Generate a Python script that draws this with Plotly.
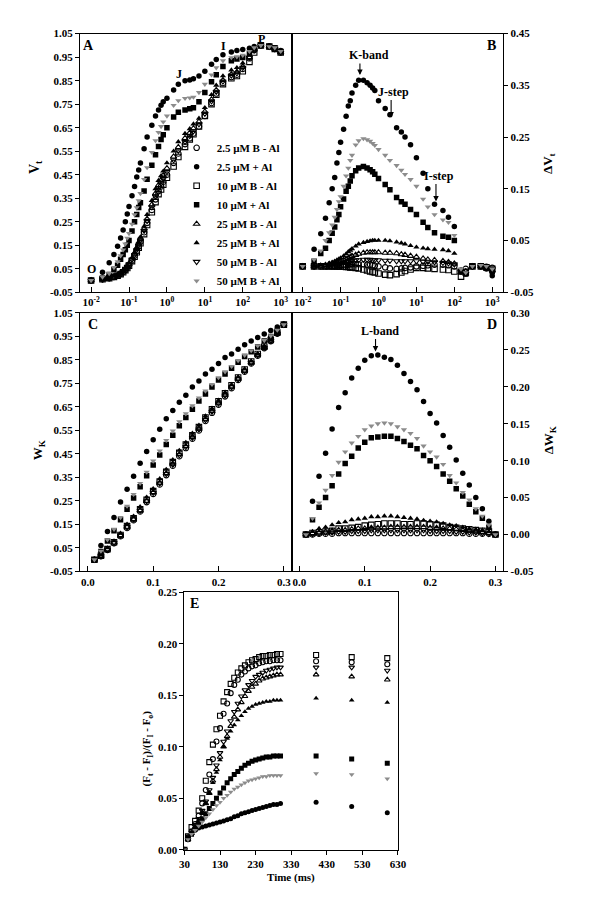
import plotly.graph_objects as go

# ---------------- DATA ----------------
NAMES = ["2.5 µM B - Al", "2.5 µM + Al", "10 µM B - Al", "10 µM + Al",
         "25 µM B - Al", "25 µM B + Al", "50 µM B - Al", "50 µM B + Al"]

# Panel A/B time axis (ms)
T_OJIP = [0.01, 0.02, 0.03, 0.04, 0.05, 0.06, 0.07, 0.08, 0.09, 0.1,
          0.12, 0.14, 0.16, 0.18, 0.2, 0.25, 0.3, 0.4, 0.5, 0.6, 0.7, 0.8,
          1, 1.5, 2, 3, 4, 5, 7, 10, 15, 20, 30, 50, 70, 100, 150, 200,
          300, 500, 700, 1000]

VT_B2_5_MINUS = [0, 0.005, 0.01, 0.015, 0.02, 0.028, 0.036, 0.045, 0.055, 0.065,
                 0.085, 0.105, 0.125, 0.145, 0.165, 0.205, 0.245, 0.30, 0.345, 0.38,
                 0.40, 0.42, 0.45, 0.50, 0.54, 0.58, 0.605, 0.625, 0.655, 0.70,
                 0.755, 0.795, 0.84, 0.865, 0.875, 0.90, 0.945, 0.98, 1.0, 0.995,
                 0.985, 0.97]
VT_B2_5_PLUS = [0, 0.035, 0.075, 0.11, 0.145, 0.18, 0.215, 0.25, 0.283, 0.315,
                0.36, 0.40, 0.44, 0.47, 0.50, 0.56, 0.61, 0.66, 0.70, 0.725,
                0.745, 0.76, 0.775, 0.81, 0.835, 0.85, 0.853, 0.858, 0.87, 0.89,
                0.92, 0.94, 0.96, 0.972, 0.978, 0.982, 0.988, 0.995, 1.0, 0.997,
                0.99, 0.978]
VT_B10_MINUS = [0, 0.005, 0.01, 0.015, 0.02, 0.027, 0.035, 0.044, 0.053, 0.063,
                0.082, 0.101, 0.12, 0.139, 0.158, 0.197, 0.236, 0.29, 0.333, 0.367,
                0.387, 0.407, 0.437, 0.485, 0.525, 0.568, 0.6, 0.622, 0.655, 0.70,
                0.75, 0.79, 0.835, 0.86, 0.87, 0.89, 0.93, 0.97, 1.0, 0.995,
                0.985, 0.97]
VT_B10_PLUS = [0, 0.01, 0.025, 0.045, 0.065, 0.09, 0.11, 0.13, 0.15, 0.17,
               0.21, 0.25, 0.28, 0.31, 0.33, 0.38, 0.43, 0.49, 0.535, 0.57,
               0.60, 0.62, 0.65, 0.695, 0.715, 0.725, 0.73, 0.735, 0.76, 0.80,
               0.845, 0.875, 0.91, 0.935, 0.942, 0.948, 0.965, 0.985, 1.0, 0.995,
               0.99, 0.975]
VT_B25_MINUS = [0, 0.005, 0.01, 0.016, 0.022, 0.03, 0.039, 0.048, 0.059, 0.07,
                0.092, 0.113, 0.135, 0.156, 0.177, 0.22, 0.262, 0.322, 0.37, 0.405,
                0.427, 0.447, 0.477, 0.527, 0.567, 0.605, 0.628, 0.647, 0.675, 0.718,
                0.77, 0.81, 0.852, 0.877, 0.887, 0.91, 0.95, 0.982, 1.0, 0.995,
                0.985, 0.97]
VT_B25_PLUS = [0, 0.005, 0.01, 0.017, 0.025, 0.033, 0.042, 0.052, 0.063, 0.075,
               0.097, 0.12, 0.142, 0.165, 0.185, 0.23, 0.28, 0.34, 0.39, 0.425,
               0.445, 0.465, 0.50, 0.55, 0.59, 0.625, 0.645, 0.665, 0.69, 0.735,
               0.79, 0.83, 0.87, 0.895, 0.905, 0.925, 0.96, 0.985, 1.0, 0.995,
               0.985, 0.97]
VT_B50_MINUS = [0, 0.005, 0.01, 0.015, 0.021, 0.029, 0.038, 0.047, 0.057, 0.068,
                0.089, 0.109, 0.13, 0.15, 0.171, 0.212, 0.254, 0.312, 0.357, 0.392,
                0.412, 0.432, 0.462, 0.512, 0.552, 0.59, 0.615, 0.635, 0.665, 0.71,
                0.763, 0.803, 0.847, 0.872, 0.882, 0.905, 0.948, 0.98, 1.0, 0.995,
                0.985, 0.97]
VT_B50_PLUS = [0, 0.015, 0.03, 0.055, 0.08, 0.105, 0.13, 0.155, 0.18, 0.20,
               0.24, 0.28, 0.31, 0.34, 0.37, 0.43, 0.48, 0.545, 0.595, 0.63,
               0.655, 0.675, 0.70, 0.745, 0.765, 0.775, 0.777, 0.78, 0.80, 0.835,
               0.875, 0.905, 0.935, 0.948, 0.952, 0.958, 0.975, 0.99, 1.0, 0.995,
               0.99, 0.975]

DVT_B2_5_MINUS = [0, 0.0, 0.0, 0.0, 0.001, 0.001, 0.001, 0.002, 0.002, 0.002,
                  0.003, 0.003, 0.003, 0.004, 0.004, 0.004, 0.004, 0.004, 0.003, 0.003,
                  0.002, 0.001, 0.0, -0.002, -0.004, -0.005, -0.004, -0.003, -0.002, 0.0,
                  0.001, 0.002, 0.003, 0.003, 0.002, 0.0, -0.008, -0.005, 0.0, 0.0,
                  -0.001, -0.003]
DVT_B2_5_PLUS = [0, 0.033, 0.063, 0.093, 0.123, 0.15, 0.172, 0.20, 0.22, 0.24,
                 0.265, 0.29, 0.31, 0.32, 0.335, 0.35, 0.36, 0.36, 0.355, 0.35,
                 0.345, 0.34, 0.32, 0.305, 0.293, 0.268, 0.26, 0.25, 0.235, 0.21,
                 0.18, 0.15, 0.12, 0.108, 0.095, 0.077, -0.01, -0.015, 0.0, 0.0,
                 -0.005, -0.018]
DVT_B10_MINUS = [0, 0.0, 0.0, 0.0, 0.0, 0.0, 0.0, 0.0, 0.0, 0.0,
                 0.0, -0.001, -0.001, -0.002, -0.002, -0.003, -0.004, -0.006, -0.008, -0.01,
                 -0.011, -0.012, -0.014, -0.016, -0.017, -0.015, -0.012, -0.009, -0.006, -0.003,
                 -0.003, -0.004, -0.005, -0.006, -0.007, -0.01, -0.02, -0.012, 0.0, 0.0,
                 -0.002, -0.005]
DVT_B10_PLUS = [0, 0.01, 0.025, 0.035, 0.05, 0.064, 0.076, 0.09, 0.10, 0.115,
                0.13, 0.145, 0.155, 0.165, 0.175, 0.185, 0.19, 0.193, 0.19, 0.187,
                0.183, 0.178, 0.17, 0.158, 0.148, 0.133, 0.125, 0.12, 0.11, 0.10,
                0.085, 0.075, 0.065, 0.058, 0.056, 0.05, -0.01, -0.015, 0.0, 0.0,
                -0.003, -0.01]
DVT_B25_MINUS = [0, 0.0, 0.001, 0.002, 0.004, 0.005, 0.006, 0.008, 0.009, 0.01,
                 0.012, 0.014, 0.016, 0.018, 0.02, 0.022, 0.024, 0.026, 0.027, 0.027,
                 0.027, 0.027, 0.027, 0.026, 0.026, 0.025, 0.023, 0.022, 0.02, 0.018,
                 0.015, 0.013, 0.012, 0.01, 0.008, 0.005, -0.012, -0.01, 0.0, 0.0,
                 -0.002, -0.008]
DVT_B25_PLUS = [0, 0.0, 0.002, 0.004, 0.006, 0.008, 0.01, 0.012, 0.014, 0.016,
                0.02, 0.024, 0.028, 0.031, 0.034, 0.039, 0.043, 0.046, 0.048, 0.049,
                0.05, 0.05, 0.05, 0.05, 0.049, 0.047, 0.045, 0.043, 0.04, 0.037,
                0.035, 0.034, 0.033, 0.032, 0.03, 0.025, -0.01, -0.015, 0.0, 0.0,
                -0.003, -0.01]
DVT_B50_MINUS = [0, 0.0, 0.001, 0.001, 0.002, 0.003, 0.004, 0.004, 0.005, 0.006,
                 0.007, 0.008, 0.009, 0.01, 0.011, 0.012, 0.012, 0.013, 0.013, 0.013,
                 0.012, 0.012, 0.012, 0.011, 0.011, 0.01, 0.01, 0.01, 0.01, 0.01,
                 0.009, 0.009, 0.008, 0.007, 0.006, 0.004, -0.01, -0.008, 0.0, 0.0,
                 -0.002, -0.005]
DVT_B50_PLUS = [0, 0.013, 0.03, 0.05, 0.065, 0.08, 0.095, 0.11, 0.125, 0.135,
                0.155, 0.175, 0.19, 0.205, 0.215, 0.235, 0.243, 0.247, 0.245, 0.242,
                0.238, 0.234, 0.226, 0.215, 0.205, 0.195, 0.186, 0.178, 0.168, 0.155,
                0.13, 0.115, 0.10, 0.09, 0.085, 0.06, -0.005, -0.012, 0.0, 0.002,
                0.0, -0.005]

# Panel C/D time axis (ms)
T_K = [0.01, 0.02, 0.03, 0.04, 0.05, 0.06, 0.07, 0.08, 0.09, 0.10,
       0.11, 0.12, 0.13, 0.14, 0.15, 0.16, 0.17, 0.18, 0.19, 0.20,
       0.21, 0.22, 0.23, 0.24, 0.25, 0.26, 0.27, 0.28, 0.29, 0.30]

WK_B2_5_MINUS = [0, 0.015, 0.042, 0.07, 0.10, 0.135, 0.168, 0.205, 0.245, 0.28,
                 0.32, 0.36, 0.40, 0.44, 0.475, 0.515, 0.55, 0.59, 0.625, 0.66,
                 0.695, 0.73, 0.765, 0.80, 0.835, 0.868, 0.90, 0.93, 0.962, 1.0]
WK_B2_5_PLUS = [0, 0.06, 0.12, 0.18, 0.245, 0.30, 0.355, 0.41, 0.46, 0.51,
                0.555, 0.60, 0.635, 0.67, 0.70, 0.735, 0.76, 0.79, 0.81, 0.835,
                0.86, 0.875, 0.895, 0.915, 0.93, 0.945, 0.96, 0.975, 0.99, 1.0]
WK_B10_MINUS = [0, 0.017, 0.045, 0.074, 0.105, 0.143, 0.176, 0.214, 0.255, 0.292,
                0.333, 0.374, 0.415, 0.455, 0.49, 0.529, 0.564, 0.605, 0.64, 0.674,
                0.708, 0.742, 0.775, 0.809, 0.843, 0.875, 0.906, 0.935, 0.966, 1.0]
WK_B10_PLUS = [0, 0.035, 0.08, 0.123, 0.17, 0.215, 0.263, 0.31, 0.357, 0.403,
               0.445, 0.49, 0.53, 0.57, 0.605, 0.64, 0.675, 0.705, 0.735, 0.765,
               0.79, 0.815, 0.84, 0.865, 0.885, 0.905, 0.93, 0.95, 0.975, 1.0]
WK_B25_MINUS = [0, 0.016, 0.044, 0.073, 0.104, 0.14, 0.173, 0.21, 0.25, 0.287,
                0.327, 0.367, 0.408, 0.448, 0.483, 0.522, 0.557, 0.597, 0.632, 0.667,
                0.701, 0.736, 0.77, 0.804, 0.839, 0.872, 0.904, 0.933, 0.964, 1.0]
WK_B25_PLUS = [0, 0.019, 0.05, 0.08, 0.113, 0.151, 0.185, 0.225, 0.266, 0.302,
               0.344, 0.384, 0.425, 0.465, 0.499, 0.538, 0.572, 0.611, 0.644, 0.678,
               0.712, 0.745, 0.778, 0.812, 0.845, 0.876, 0.907, 0.936, 0.966, 1.0]
WK_B50_MINUS = [0, 0.016, 0.043, 0.072, 0.103, 0.139, 0.172, 0.209, 0.249, 0.285,
                0.325, 0.365, 0.405, 0.445, 0.48, 0.52, 0.555, 0.595, 0.63, 0.665,
                0.699, 0.734, 0.768, 0.803, 0.838, 0.871, 0.903, 0.932, 0.963, 1.0]
WK_B50_PLUS = [0, 0.037, 0.085, 0.13, 0.18, 0.228, 0.278, 0.325, 0.373, 0.42,
               0.463, 0.508, 0.548, 0.587, 0.621, 0.655, 0.689, 0.718, 0.746, 0.775,
               0.8, 0.823, 0.847, 0.87, 0.89, 0.91, 0.933, 0.953, 0.977, 1.0]

DWK_B2_5_MINUS = [0, 0.0, 0.001, 0.001, 0.001, 0.002, 0.002, 0.002, 0.002, 0.002,
                  0.002, 0.002, 0.002, 0.002, 0.002, 0.002, 0.002, 0.002, 0.002, 0.002,
                  0.002, 0.002, 0.002, 0.002, 0.002, 0.001, 0.001, 0.001, 0.001, 0]
DWK_B2_5_PLUS = [0, 0.045, 0.079, 0.11, 0.143, 0.172, 0.192, 0.212, 0.225, 0.236,
                 0.242, 0.243, 0.24, 0.237, 0.229, 0.218, 0.207, 0.196, 0.18, 0.164,
                 0.151, 0.134, 0.118, 0.101, 0.083, 0.067, 0.05, 0.035, 0.018, 0]
DWK_B10_MINUS = [0, 0.002, 0.003, 0.004, 0.005, 0.008, 0.008, 0.009, 0.01, 0.012,
                 0.013, 0.014, 0.015, 0.015, 0.015, 0.014, 0.014, 0.015, 0.015, 0.014,
                 0.013, 0.012, 0.01, 0.009, 0.008, 0.007, 0.006, 0.005, 0.004, 0]
DWK_B10_PLUS = [0, 0.02, 0.037, 0.05, 0.066, 0.082, 0.096, 0.106, 0.117, 0.125,
                0.131, 0.132, 0.133, 0.133, 0.13, 0.126, 0.121, 0.116, 0.107, 0.10,
                0.092, 0.082, 0.072, 0.062, 0.052, 0.041, 0.031, 0.022, 0.01, 0]
DWK_B25_MINUS = [0, 0.002, 0.003, 0.004, 0.005, 0.006, 0.006, 0.007, 0.008, 0.008,
                 0.009, 0.009, 0.009, 0.01, 0.01, 0.01, 0.01, 0.01, 0.01, 0.009,
                 0.009, 0.008, 0.008, 0.007, 0.006, 0.005, 0.004, 0.003, 0.002, 0]
DWK_B25_PLUS = [0, 0.004, 0.008, 0.01, 0.013, 0.016, 0.017, 0.02, 0.021, 0.022,
                0.024, 0.024, 0.025, 0.025, 0.024, 0.023, 0.022, 0.021, 0.019, 0.018,
                0.017, 0.015, 0.013, 0.012, 0.01, 0.008, 0.007, 0.006, 0.004, 0]
DWK_B50_MINUS = [0, 0.001, 0.002, 0.003, 0.003, 0.004, 0.004, 0.005, 0.005, 0.005,
                 0.006, 0.006, 0.006, 0.006, 0.006, 0.006, 0.006, 0.006, 0.006, 0.005,
                 0.005, 0.005, 0.005, 0.004, 0.004, 0.003, 0.003, 0.002, 0.001, 0]
DWK_B50_PLUS = [0, 0.022, 0.043, 0.06, 0.08, 0.098, 0.112, 0.124, 0.133, 0.142,
                0.147, 0.150, 0.151, 0.150, 0.146, 0.142, 0.137, 0.13, 0.12, 0.112,
                0.105, 0.095, 0.08, 0.07, 0.057, 0.047, 0.035, 0.025, 0.013, 0]

# Panel E time axis (ms)
T_E = [30, 40, 50, 60, 70, 80, 90, 100, 110, 120, 130, 140, 150, 160, 170,
       180, 190, 200, 210, 220, 230, 240, 250, 260, 270, 280, 290, 300,
       400, 500, 600]

E_B2_5_MINUS = [0, 0.012, 0.018, 0.025, 0.033, 0.045, 0.058, 0.073, 0.088, 0.105,
                0.118, 0.132, 0.142, 0.152, 0.16, 0.165, 0.17, 0.173, 0.176, 0.178,
                0.179, 0.181, 0.182, 0.183, 0.183, 0.184, 0.184, 0.184, 0.183, 0.182, 0.18]
E_B2_5_PLUS = [0, 0.012, 0.016, 0.019, 0.021, 0.022, 0.023, 0.024, 0.025, 0.026,
               0.027, 0.028, 0.029, 0.03, 0.032, 0.033, 0.035, 0.036, 0.037, 0.038,
               0.039, 0.04, 0.041, 0.042, 0.043, 0.044, 0.044, 0.045, 0.046, 0.042, 0.036]
E_B10_MINUS = [0, 0.013, 0.022, 0.028, 0.038, 0.05, 0.067, 0.085, 0.102, 0.117,
               0.13, 0.144, 0.153, 0.161, 0.167, 0.172, 0.176, 0.179, 0.182, 0.184,
               0.185, 0.187, 0.188, 0.188, 0.189, 0.189, 0.19, 0.19, 0.189, 0.187, 0.186]
E_B10_PLUS = [0, 0.01, 0.015, 0.02, 0.025, 0.03, 0.035, 0.04, 0.045, 0.05,
              0.055, 0.06, 0.065, 0.069, 0.073, 0.076, 0.079, 0.082, 0.084, 0.086,
              0.087, 0.088, 0.089, 0.09, 0.09, 0.091, 0.091, 0.091, 0.091, 0.088, 0.084]
E_B25_MINUS = [0, 0.01, 0.016, 0.022, 0.028, 0.036, 0.045, 0.055, 0.067, 0.078,
               0.09, 0.1, 0.11, 0.12, 0.129, 0.136, 0.143, 0.149, 0.154, 0.158,
               0.161, 0.164, 0.166, 0.167, 0.168, 0.169, 0.17, 0.17, 0.17, 0.168, 0.165]
E_B25_PLUS = [0, 0.01, 0.016, 0.022, 0.028, 0.035, 0.045, 0.055, 0.065, 0.075,
              0.087, 0.1, 0.108, 0.115, 0.121, 0.126, 0.13, 0.134, 0.137, 0.139,
              0.141, 0.142, 0.143, 0.144, 0.144, 0.145, 0.145, 0.145, 0.147, 0.145, 0.143]
E_B50_MINUS = [0, 0.01, 0.017, 0.023, 0.03, 0.038, 0.047, 0.058, 0.07, 0.082,
               0.094, 0.105, 0.115, 0.125, 0.134, 0.142, 0.149, 0.155, 0.16, 0.164,
               0.168, 0.17, 0.172, 0.174, 0.175, 0.176, 0.177, 0.177, 0.177, 0.177, 0.174]
E_B50_PLUS = [0, 0.01, 0.015, 0.019, 0.023, 0.027, 0.031, 0.035, 0.039, 0.043,
              0.046, 0.05, 0.053, 0.056, 0.059, 0.061, 0.063, 0.065, 0.067, 0.068,
              0.069, 0.07, 0.071, 0.071, 0.072, 0.072, 0.072, 0.072, 0.074, 0.073, 0.069]

LOG_TICKS = [0.01, 0.1, 1, 10, 100, 1000]
LOG_TICKTEXT = ["10<sup>-2</sup>", "10<sup>-1</sup>", "10<sup>0</sup>",
                "10<sup>1</sup>", "10<sup>2</sup>", "10<sup>3</sup>"]
VT_TICKS = [-0.05, 0.05, 0.15, 0.25, 0.35, 0.45, 0.55, 0.65, 0.75, 0.85, 0.95, 1.05]
DVT_TICKS = [-0.05, 0.05, 0.15, 0.25, 0.35, 0.45]
K_TICKS = [0.0, 0.1, 0.2, 0.3]
DWK_TICKS = [-0.05, 0.0, 0.05, 0.10, 0.15, 0.20, 0.25, 0.30]
E_XTICKS = [30, 130, 230, 330, 430, 530, 630]
E_YTICKS = [0.0, 0.05, 0.10, 0.15, 0.20, 0.25]

# ---------------- STYLE ----------------
FONT = "Liberation Serif"
GREY = "#8c8c8c"
SYMBOLS = ["circle-open", "circle", "square-open", "square",
           "triangle-up-open", "triangle-up", "triangle-down-open", "triangle-down"]
COLORS = ["black", "black", "black", "black", "black", "black", "black", GREY]

SERIES_A = [VT_B2_5_MINUS, VT_B2_5_PLUS, VT_B10_MINUS, VT_B10_PLUS,
            VT_B25_MINUS, VT_B25_PLUS, VT_B50_MINUS, VT_B50_PLUS]
SERIES_B = [DVT_B2_5_MINUS, DVT_B2_5_PLUS, DVT_B10_MINUS, DVT_B10_PLUS,
            DVT_B25_MINUS, DVT_B25_PLUS, DVT_B50_MINUS, DVT_B50_PLUS]
SERIES_C = [WK_B2_5_MINUS, WK_B2_5_PLUS, WK_B10_MINUS, WK_B10_PLUS,
            WK_B25_MINUS, WK_B25_PLUS, WK_B50_MINUS, WK_B50_PLUS]
SERIES_D = [DWK_B2_5_MINUS, DWK_B2_5_PLUS, DWK_B10_MINUS, DWK_B10_PLUS,
            DWK_B25_MINUS, DWK_B25_PLUS, DWK_B50_MINUS, DWK_B50_PLUS]
SERIES_E = [E_B2_5_MINUS, E_B2_5_PLUS, E_B10_MINUS, E_B10_PLUS,
            E_B25_MINUS, E_B25_PLUS, E_B50_MINUS, E_B50_PLUS]

W, H = 600, 912


def px(x):
    return x / W


def py(y):
    return 1 - y / H


def marker(i, size):
    open_ = SYMBOLS[i].endswith("open")
    return dict(symbol=SYMBOLS[i], size=size, color=COLORS[i],
                line=dict(color=COLORS[i], width=1.1 if open_ else 0))


fig = go.Figure()
panels = [(T_OJIP, SERIES_A, "x", "y", 5.5), (T_OJIP, SERIES_B, "x2", "y2", 5.5),
          (T_K, SERIES_C, "x3", "y3", 5.5), (T_K, SERIES_D, "x4", "y4", 5.5),
          (T_E, SERIES_E, "x5", "y5", 5)]
for pi, (tx, series, xa, ya, ms) in enumerate(panels):
    for i, vals in enumerate(series):
        fig.add_trace(go.Scatter(
            x=tx, y=vals, mode="markers", name=NAMES[i], xaxis=xa, yaxis=ya,
            marker=marker(i, ms), showlegend=(pi == 0), legendrank=i))

tickfont = dict(family=FONT, size=11, color="black", weight="bold")
common = dict(showline=True, linecolor="black", linewidth=1.2, mirror=True,
              showgrid=False, zeroline=False, tickcolor="black", tickwidth=1.1,
              tickfont=tickfont)

XA = (px(76), px(293))
XB = (px(293), px(510))
YAB = (py(290), py(28))
YCD = (py(573), py(311))
XE = (px(183), px(402))
YE = (py(855), py(594))

fig.update_layout(
    width=W, height=H, margin=dict(l=0, r=0, t=0, b=0),
    paper_bgcolor="white", plot_bgcolor="white",
    font=dict(family=FONT, color="black"),
    xaxis=dict(common, domain=XA, anchor="y", type="log", range=[-2.29, 3.29],
               tickvals=LOG_TICKS, ticktext=LOG_TICKTEXT, ticks="inside", ticklen=5),
    yaxis=dict(common, domain=YAB, anchor="x", range=[-0.05, 1.05],
               tickvals=VT_TICKS, ticktext=[f"{v:.2f}" for v in VT_TICKS],
               ticks="outside", ticklen=4),
    xaxis2=dict(common, domain=XB, anchor="y2", type="log", range=[-2.29, 3.29],
                tickvals=LOG_TICKS, ticktext=LOG_TICKTEXT, ticks="inside", ticklen=5),
    yaxis2=dict(common, domain=YAB, anchor="x2", side="right", range=[-0.05, 0.45],
                tickvals=DVT_TICKS, ticktext=[f"{v:.2f}" for v in DVT_TICKS],
                ticks="outside", ticklen=4),
    xaxis3=dict(common, domain=XA, anchor="y3", range=[-0.0119, 0.312],
                tickvals=K_TICKS, ticktext=["0.0", "0.1", "0.2", "0.3"],
                ticks="inside", ticklen=5),
    yaxis3=dict(common, domain=YCD, anchor="x3", range=[-0.05, 1.05],
                tickvals=VT_TICKS, ticktext=[f"{v:.2f}" for v in VT_TICKS],
                ticks="outside", ticklen=4),
    xaxis4=dict(common, domain=XB, anchor="y4", range=[-0.0119, 0.312],
                tickvals=K_TICKS, ticktext=["0.0", "0.1", "0.2", "0.3"],
                ticks="inside", ticklen=5),
    yaxis4=dict(common, domain=YCD, anchor="x4", side="right", range=[-0.05, 0.30],
                tickvals=DWK_TICKS, ticktext=[f"{v:.2f}" for v in DWK_TICKS],
                ticks="outside", ticklen=4),
    xaxis5=dict(common, domain=XE, anchor="y5", range=[30, 630],
                tickvals=E_XTICKS, ticktext=[str(v) for v in E_XTICKS],
                ticks="outside", ticklen=4),
    yaxis5=dict(common, domain=YE, anchor="x5", range=[0, 0.25],
                tickvals=E_YTICKS, ticktext=[f"{v:.2f}" for v in E_YTICKS],
                ticks="outside", ticklen=4),
    legend=dict(x=px(175), y=py(129), xanchor="left", yanchor="top",
                bgcolor="rgba(0,0,0,0)", tracegroupgap=0,
                font=dict(family=FONT, size=11, color="black", weight="bold")),
)


def txt(x, y, text, size=12, angle=0, xanchor="center"):
    fig.add_annotation(x=px(x), y=py(y), xref="paper", yref="paper", text=text,
                       showarrow=False, textangle=angle, xanchor=xanchor,
                       yanchor="middle",
                       font=dict(family=FONT, size=size, color="black", weight="bold"))


def arrow(x, y0, y1):
    fig.add_annotation(x=px(x), y=py(y1), xref="paper", yref="paper", text="",
                       showarrow=True, ax=0, ay=-(y1 - y0), arrowhead=2,
                       arrowsize=1, arrowwidth=1.1, arrowcolor="black", standoff=0)


# panel letters
txt(85, 40, "A", 14)
txt(498, 40, "B", 14)
txt(89, 323, "C", 14)
txt(498, 323, "D", 14)
txt(193, 605, "E", 14)

# OJIP labels
txt(88, 267, "O", 12)
txt(177, 69, "J", 12)
txt(223, 41, "I", 12)
txt(262, 33, "P", 12)

# band labels with arrows
txt(372, 50, "K-band", 12)
arrow(363, 57, 70)
txt(397, 87, "J-step", 12)
arrow(395, 94, 113)
txt(444, 172, "I-step", 12)
arrow(441, 179, 198)
txt(384, 329, "L-band", 12)
arrow(379, 336, 350)

# axis titles
txt(31, 163, "V<sub>t</sub>", 14, -90)
txt(33, 450, "W<sub>K</sub>", 13, -90)
txt(557, 160, "ΔV<sub>t</sub>", 13, -90)
txt(557, 440, "ΔW<sub>K</sub>", 13, -90)
txt(292, 883, "Time (ms)", 11)
txt(145, 752, "(F<sub>t</sub> - F<sub>I</sub>)/(F<sub>I</sub> - F<sub>o</sub>)", 11, -90)

fig.write_html(
    "out.html",
    config={"displayModeBar": False},
    post_script="document.body.style.margin='0';document.body.style.overflow='hidden';",
)
